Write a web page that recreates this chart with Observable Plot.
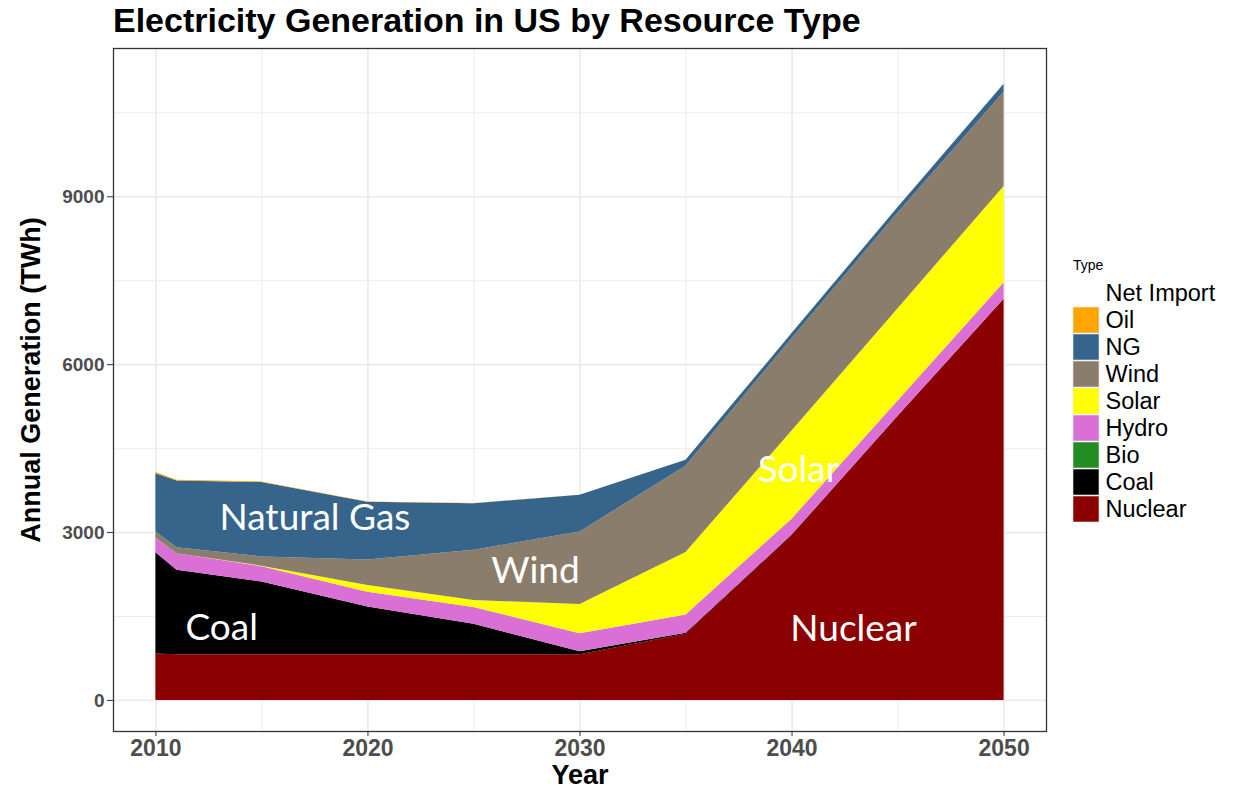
<!DOCTYPE html>
<html><head><meta charset="utf-8">
<script src="https://cdn.jsdelivr.net/npm/d3@7"></script>
<script src="https://cdn.jsdelivr.net/npm/@observablehq/plot@0.6"></script>
<style>
body{margin:0;background:#fff;}
#wrap{position:relative;width:1248px;height:788px;overflow:hidden;font-family:"Liberation Sans",Arial,sans-serif;}
#title{position:absolute;left:113px;top:1px;font-size:34px;font-weight:bold;color:#000;white-space:nowrap;}
#chart{position:absolute;left:0;top:40px;}
#ytitle{position:absolute;left:31px;top:380px;transform:translate(-50%,-50%) rotate(-90deg);font-size:27px;font-weight:bold;white-space:nowrap;color:#000;}
#xtitle{position:absolute;left:580px;top:775px;transform:translate(-50%,-50%);font-size:27px;font-weight:bold;color:#000;}
#ltitle{position:absolute;left:1073px;top:257px;font-size:14px;color:#000;}
#legend{position:absolute;left:1073px;top:278px;}
</style></head>
<body>
<div id="wrap">
  <div id="title">Electricity Generation in US by Resource Type</div>
  <div id="chart"></div>
  <div id="ytitle">Annual Generation (TWh)</div>
  <div id="xtitle">Year</div>
  <div id="ltitle">Type</div>
  <div id="legend"></div>
</div>
<script>
// ---- data (TWh) ----
const years     = [2010, 2011, 2015, 2020, 2025, 2030, 2035, 2040, 2045, 2050];
const nuclear   = [830, 815, 815, 815, 815, 815, 1185, 2950, 5080, 7170];
const coal      = [1810, 1510, 1300, 855, 545, 55, 15, 5, 0, 0];
const bio       = [0, 0, 0, 0, 0, 0, 0, 0, 0, 0];
const hydro     = [265, 295, 275, 265, 300, 320, 325, 285, 270, 295];
const solar     = [0, 0, 10, 120, 125, 525, 1120, 1575, 1650, 1720];
const wind      = [105, 110, 165, 455, 900, 1295, 1540, 1650, 1710, 1685];
const ng        = [1040, 1190, 1330, 1030, 830, 655, 105, 90, 100, 140];
const oil       = [25, 15, 10, 5, 5, 0, 0, 0, 0, 0];
const netImport = [0, 0, 0, 0, 0, 0, 0, 0, 0, 0];

const stackOrder  = ["Nuclear", "Coal", "Bio", "Hydro", "Solar", "Wind", "NG", "Oil", "Net Import"];
const legendOrder = ["Net Import", "Oil", "NG", "Wind", "Solar", "Hydro", "Bio", "Coal", "Nuclear"];
const typeColors  = ["white", "#FFA500", "#36648B", "#8B7D6B", "#FFFF00", "#DA70D6", "#228B22", "#000000", "#8B0000"];

const xTicks = [2010, 2020, 2030, 2040, 2050];
const xMinor = [2015, 2025, 2035, 2045];
const yTicks = [0, 3000, 6000, 9000];
const yMinor = [1500, 4500, 7500, 10500];

const annLabels = ["Natural Gas", "Coal", "Wind", "Solar", "Nuclear"];
const annX      = [2017.5, 2013.1, 2027.9, 2040.3, 2042.9];
const annY      = [3250, 1290, 2310, 4120, 1270];

// ---- tidy table ----
const series = {"Nuclear": nuclear, "Coal": coal, "Bio": bio, "Hydro": hydro, "Solar": solar,
                "Wind": wind, "NG": ng, "Oil": oil, "Net Import": netImport};
const tidy = [];
for (const t of stackOrder) years.forEach((yr, i) => tidy.push({year: yr, type: t, value: series[t][i]}));
const ann = annLabels.map((l, i) => ({label: l, x: annX[i], y: annY[i]}));

const colorScale = {domain: legendOrder, range: typeColors};

const chart = Plot.plot({
  width: 1060, height: 748,
  marginTop: 8, marginBottom: 57, marginLeft: 113, marginRight: 14,
  x: {domain: [2008, 2052]},
  y: {domain: [-555, 11650]},
  color: colorScale,
  style: {fontFamily: "'Liberation Sans', Arial, sans-serif", background: "white"},
  marks: [
    Plot.ruleX(xMinor, {stroke: "#ebebeb", strokeWidth: 0.9}),
    Plot.ruleY(yMinor, {stroke: "#ebebeb", strokeWidth: 0.9}),
    Plot.ruleX(xTicks, {stroke: "#ebebeb", strokeWidth: 1.8}),
    Plot.ruleY(yTicks, {stroke: "#ebebeb", strokeWidth: 1.8}),
    Plot.areaY(tidy, {x: "year", y: "value", fill: "type", order: stackOrder}),
    Plot.text(ann, {x: "x", y: "y", text: "label", fill: "white", fontSize: 37, fontFamily: "Lato"}),
    Plot.frame({stroke: "#333333", strokeWidth: 1.3}),
    Plot.axisX({ticks: xTicks, tickFormat: d => String(d), tickSize: 5, tickPadding: 3,
                stroke: "#333333", fill: "#4d4d4d", fontSize: 23, fontWeight: "bold", label: null}),
    Plot.axisY({ticks: yTicks, tickFormat: d => String(d), tickSize: 6, tickPadding: 3,
                stroke: "#333333", fill: "#4d4d4d", fontSize: 19, fontWeight: "bold", label: null})
  ]
});
document.getElementById("chart").appendChild(chart);

const legend = Plot.plot({
  width: 175, height: 245, margin: 0,
  x: {type: "band", domain: ["key"], range: [0, 26], axis: null, padding: 0},
  y: {type: "band", domain: legendOrder, range: [0, 245], axis: null, padding: 0.04},
  color: colorScale,
  style: {fontFamily: "'Liberation Sans', Arial, sans-serif", overflow: "visible"},
  marks: [
    Plot.cell(legendOrder, {x: () => "key", y: d => d, fill: d => d, stroke: d => d === "Net Import" ? "white" : "#e8e8e8", strokeWidth: 0.6}),
    Plot.text(legendOrder, {x: () => "key", y: d => d, text: d => d, dx: 19, textAnchor: "start", fontSize: 23.5, fill: "black"})
  ]
});
document.getElementById("legend").appendChild(legend);
</script>
</body></html>
